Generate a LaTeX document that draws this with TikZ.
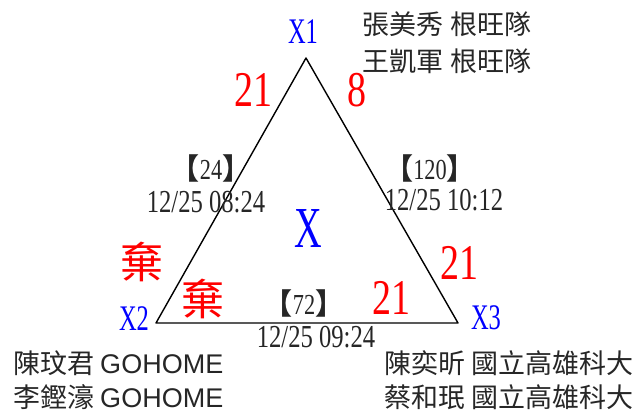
\documentclass[tikz,border=0pt]{standalone}
\usepackage{fontspec}
\setmainfont{Liberation Serif}
\newfontfamily\cjk{Noto Sans CJK TC}
\newfontfamily\arial{Liberation Sans}
\newcommand{\nrw}[2][0.77]{\scalebox{#1}[1]{#2}}
\newcommand{\brk}[1]{{\cjk\bfseries【}\nrw{#1}{\cjk\bfseries】}}
\tikzset{
  vx/.style={blue,inner sep=0pt,font=\fontsize{36}{36}\selectfont},
  sc/.style={red,inner sep=0pt,font=\fontsize{50}{50}\selectfont},
  qi/.style={red,inner sep=0pt,font=\fontsize{43}{43}\selectfont\cjk},
  tm/.style={inner sep=0pt,text=black!85,font=\fontsize{32}{32}\selectfont},
  bk/.style={tm,font=\fontsize{29}{29}\selectfont},
  nm/.style={inner sep=0pt,text=black!85,font=\fontsize{27}{27}\selectfont\cjk},
  every picture/.style={line cap=round,line join=round}}

\begin{document}
\begin{tikzpicture}[x=1pt,y=-1pt]
  \useasboundingbox (0,0) rectangle (643,414);
  \coordinate (p1) at (306,58); \coordinate (p2) at (156,323); \coordinate (p3) at (458,323);
  \draw[line width=1.4pt] (p1)--(p2)--(p3)--cycle;
  % vertices
  \node[vx] (x1) at (303,32) {\nrw[0.68]{X1}};
  \node[vx] (x2) at (134,319) {\nrw[0.68]{X2}};
  \node[vx] (x3) at (486,318) {\nrw[0.68]{X3}};
  \node[vx,font=\fontsize{58}{58}\selectfont] (xc) at (308,229) {\nrw[0.66]{X}};
  % scores
  \node[sc] (s12) at (253,90) {\nrw[0.76]{21}}; \node[sc] (s13) at (357,90) {\nrw[0.76]{8}};
  \node[sc] (s31) at (459,263) {\nrw[0.76]{21}}; \node[sc] (s32) at (391,298) {\nrw[0.76]{21}};
  \node[qi] (q21) at (142,262) {棄}; \node[qi] (q23) at (203,299) {棄};
  % match times
  \node[bk] (m12) at (211,168) {\brk{24}};
  \node[tm] (t12) at (206,202) {\nrw{12/25 08:24}};
  \node[bk] (m13) at (430,168) {\brk{120}};
  \node[tm] (t13) at (444,200) {\nrw{12/25 10:12}};
  \node[bk] (m23) at (304,303) {\brk{72}};
  \node[tm] (t23) at (316,337) {\nrw{12/25 09:24}};
  % teams
  \node[nm] (n1a) at (447,24) {張美秀 根旺隊}; \node[nm] (n1b) at (447,61) {王凱軍 根旺隊};
  \node[nm,anchor=west] (n2a) at (13,363) {陳玟君 {\arial GOHOME}};
  \node[nm,anchor=west] (n2b) at (13,397) {李鏗濠 {\arial GOHOME}};
  \node[nm,anchor=east] (n3a) at (634,363) {陳奕昕 國立高雄科大};
  \node[nm,anchor=east] (n3b) at (634,397) {蔡和珉 國立高雄科大};
\end{tikzpicture}
\end{document}
